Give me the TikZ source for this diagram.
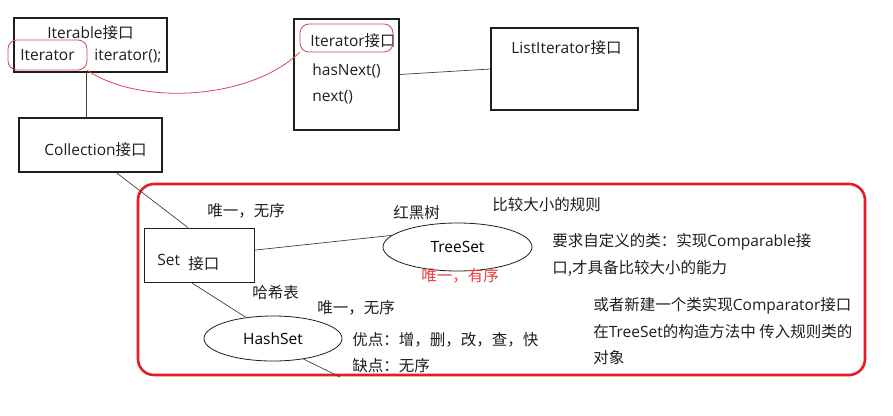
\documentclass[tikz,border=0pt]{standalone}
\usepackage{fontspec}
\setmainfont{Open Sans}
\newfontfamily\cjk{Noto Sans CJK SC}
\usetikzlibrary{shapes.geometric}
\definecolor{penred}{RGB}{228,28,36}
\definecolor{ringred}{RGB}{215,70,80}
\definecolor{textred}{RGB}{232,60,60}
\definecolor{ink}{RGB}{30,30,30}
\begin{document}
\begin{tikzpicture}[x=1pt, y=-1pt, line width=.8pt, font=\fontsize{15.5}{18}\selectfont,
		box/.style={draw=ink, line width=1.1pt, inner sep=0pt},
		oval/.style={draw=ink, ellipse, inner sep=0pt},
		ring/.style={draw=ringred, line width=.8pt, rounded corners=9pt, inner sep=0pt},
		lbl/.style={anchor=base west, inner sep=0pt, text=ink},
		link/.style={draw=ink!85, line width=.7pt}]
	\useasboundingbox (0,0) rectangle (893,415);
	% the interfaces
	\node[box, minimum width=153, minimum height=54] (iterable) at (90.5, 45) {};
	\node[box, minimum width=143, minimum height=54] (collection) at (90.5, 145) {};
	\node[box, minimum width=105, minimum height=111] (iterator) at (346.5, 74.5) {};
	\node[box, minimum width=147, minimum height=82] (listiter) at (564.5, 69) {};
	\node[lbl] (iterabletxt) at (47, 38) {Iterable{\cjk 接口}};
	\node[lbl] (itera) at (20, 60) {Iterator};
	\node[lbl] (iterfn) at (94, 60) {iterator();};
	\node[lbl] (collectiontxt) at (44, 155) {Collection{\cjk 接口}};
	\node[lbl] (iteratortxt) at (310, 46) {Iterator{\cjk 接口}};
	\node[lbl] (hasnext) at (312, 75) {hasNext()};
	\node[lbl] (next) at (312, 101) {next()};
	\node[lbl] (listitertxt) at (511, 53) {ListIterator{\cjk 接口}};
	\node[ring, minimum width=79, minimum height=30] (ringa) at (47.5, 55) {};
	\node[ring, minimum width=93, minimum height=28] (ringb) at (346.5, 38) {};
	\draw[ringred] (ringa.south east) .. controls (140, 106) and (250, 100) .. (ringb.south west);
	\draw[link] ([xshift=-4pt]iterable.south) -- ([xshift=-4pt]collection.north);
	\draw[link] (iterator.east) -- (listiter.west);
	% the set part
	\draw[penred, line width=2.6pt, rounded corners=16pt] (138, 184) rectangle (865, 375);
	\node[box, line width=.9pt, minimum width=110, minimum height=54] (setbox) at (199, 255) {};
	\node[lbl] (settxt) at (157, 265) {Set};
	\node[lbl] (setcjk) at (188, 269) {\cjk 接口};
	\node[oval, minimum width=149, minimum height=48] (treeset) at (457.5, 247) {TreeSet};
	\node[oval, minimum width=138, minimum height=45] (hashset) at (273, 338.5) {HashSet};
	\coordinate (tail) at (340, 377);
	\draw[link] (collection.-47) -- (setbox.112);
	\draw[link] (setbox.5) -- (treeset.170);
	\draw[link] (setbox.-106) -- (hashset.142);
	\draw[link] (hashset.-34) -- (tail);
	\node[lbl] (onlya) at (207, 216) {\cjk 唯一，无序};
	\node[lbl] (rbtree) at (393, 218) {\cjk 红黑树};
	\node[lbl] (rule) at (492, 210) {\cjk 比较大小的规则};
	\node[lbl, text=textred] (onlyb) at (421, 281) {\cjk 唯一，有序};
	\node[lbl] (hashtab) at (252, 298) {\cjk 哈希表};
	\node[lbl] (onlyc) at (317, 313) {\cjk 唯一，无序};
	\node[lbl] (pro) at (352, 345) {\cjk 优点：增，删，改，查，快};
	\node[lbl] (con) at (352, 371) {\cjk 缺点：无序};
	\node[lbl] (needa) at (552, 246) {{\cjk 要求自定义的类：实现}Comparable{\cjk 接}};
	\node[lbl] (needb) at (552, 273) {\cjk 口,才具备比较大小的能力};
	\node[lbl] (orora) at (593, 310) {{\cjk 或者新建一个类实现}Comparator{\cjk 接口}};
	\node[lbl] (ororb) at (593, 337) {{\cjk 在}TreeSet{\cjk 的构造方法中 传入规则类的}};
	\node[lbl] (ororc) at (593, 363) {\cjk 对象};
\end{tikzpicture}
\end{document}
